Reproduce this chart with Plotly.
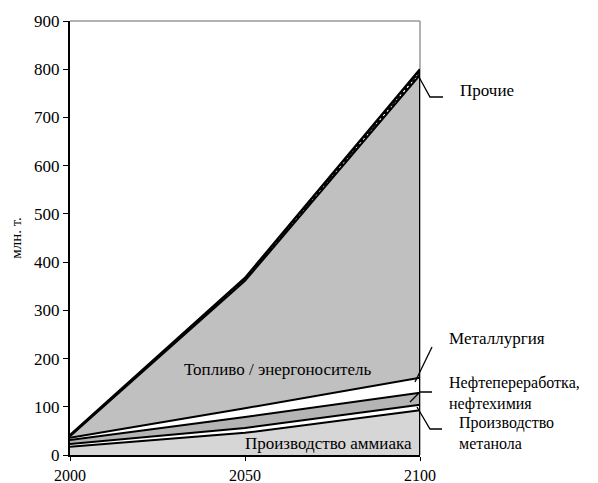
import plotly.graph_objects as go

years = [2000, 2050, 2100]
ammonia = [17, 46, 93]
methanol = [6, 10, 11]
refining = [8, 23, 25]
metallurgy = [5, 18, 31]
fuel = [3, 264, 628]
other = [2, 6, 12]

series = [
    ("Производство аммиака", ammonia, "#d6d6d6", 2),
    ("Производство метанола", methanol, "#ffffff", 2),
    ("Нефтепереработка, нефтехимия", refining, "#b4b4b4", 2),
    ("Металлургия", metallurgy, "#ffffff", 2),
    ("Топливо / энергоноситель", fuel, "#c0c0c0", 2),
]

FONT = "Liberation Serif"
fig = go.Figure()
for name, vals, col, lw in series:
    fig.add_trace(go.Scatter(x=years, y=vals, name=name, stackgroup="s",
                             mode="lines", line=dict(color="black", width=lw),
                             fillcolor=col, hoverinfo="skip"))
fig.add_trace(go.Scatter(x=years, y=other, name="Прочие", stackgroup="s",
                         mode="lines", line=dict(color="black", width=2.5),
                         fillcolor="black",
                         fillpattern=dict(shape=".", bgcolor="black", fgcolor="white",
                                          size=4, solidity=0.35),
                         hoverinfo="skip"))

total = [sum(v) for v in zip(ammonia, methanol, refining, metallurgy, fuel, other)]
fig.add_trace(go.Scatter(x=[years[-1], years[-1]], y=[0, total[-1]], mode="lines",
                         line=dict(color="black", width=2), hoverinfo="skip"))

# target plot box in screen pixels
L, R, T, B = 70, 420, 21, 455
OFF = 8  # page body margin
W, H = 598 - OFF, 483 - OFF
pw, ph = R - L, B - T

def px(x):
    return (x - L) / pw

def py(y):
    return (B - y) / ph

# gray frame top & right
fig.add_shape(type="line", xref="paper", yref="paper", x0=0, x1=1, y0=1, y1=1,
              line=dict(color="#999999", width=1.5))
fig.add_shape(type="line", xref="paper", yref="paper", x0=1, x1=1, y0=0, y1=1,
              line=dict(color="#999999", width=1.5), layer="below")

leaders = [
    [(419, 77), (430, 97), (443, 97)],
    [(415, 382), (432, 347)],
    [(410, 402), (420, 392), (432, 392)],
    [(417, 407), (430, 429), (442, 429)],
]
for pts in leaders:
    path = "M " + " L ".join(f"{px(a):.4f},{py(b):.4f}" for a, b in pts)
    fig.add_shape(type="path", xref="paper", yref="paper", path=path,
                  line=dict(color="black", width=1.3))

labels = [
    ("Прочие", 458, 90, "left", 17),
    ("Металлургия", 447, 338, "left", 17),
    ("Нефтепереработка,<br>нефтехимия", 447, 393, "left", 16),
    ("Производство<br>метанола", 457, 433, "left", 16),
    ("Топливо / энергоноситель", 278, 369, "center", 17),
    ("Производство аммиака", 414, 443, "right", 17),
]
for text, x, y, al, fs in labels:
    fig.add_annotation(text=text, xref="paper", yref="paper", x=px(x), y=py(y),
                       xanchor=al, yanchor="middle", showarrow=False, align="left",
                       font=dict(family=FONT, size=fs, color="black"))

fig.update_layout(
    template="none",
    width=W, height=H,
    margin=dict(l=L - OFF, r=598 - R, t=T - OFF, b=483 - B, autoexpand=False),
    paper_bgcolor="white", plot_bgcolor="white", showlegend=False,
    font=dict(family=FONT, size=16, color="black"),
    xaxis=dict(range=[2000, 2100], tickvals=years, ticktext=[str(y) for y in years],
               showgrid=False, zeroline=False, showline=True, linecolor="black",
               linewidth=2, ticks="outside", ticklen=4, tickcolor="black",
               ticklabelstandoff=1,
               automargin=False, tickfont=dict(family=FONT, size=16)),
    yaxis=dict(range=[0, 900], dtick=100, showgrid=False, zeroline=False,
               showline=True, linecolor="black", linewidth=2, ticks="outside",
               ticklen=5, tickcolor="black", automargin=False,
               tickfont=dict(family=FONT, size=17),
               title=dict(text="млн. т.", font=dict(family=FONT, size=15), standoff=14)),
)
fig.write_html("out.html")
